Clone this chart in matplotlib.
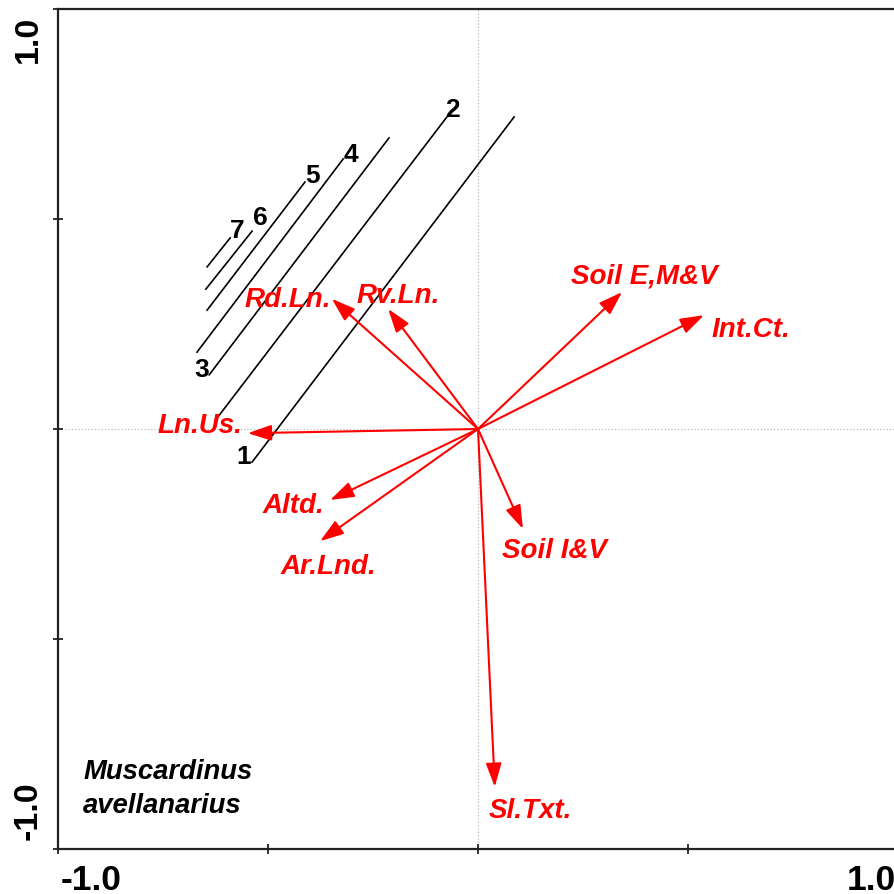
import matplotlib
matplotlib.use("Agg")
import matplotlib.pyplot as plt

# Environmental variable vectors (biplot scores)
variables = ["Ln.Us.", "Rd.Ln.", "Rv.Ln.", "Soil E,M&V", "Int.Ct.",
             "Altd.", "Ar.Lnd.", "Soil I&V", "Sl.Txt."]
var_x = [-0.548, -0.348, -0.214, 0.343, 0.538, -0.352, -0.376, 0.107, 0.040]
var_y = [-0.010, 0.310, 0.286, 0.326, 0.271, -0.169, -0.267, -0.238, -0.852]

# Label anchors for the vectors: (x, baseline y, horizontal alignment)
var_lab_x = [-0.560, -0.454, -0.189, 0.395, 0.557, -0.440, -0.357, 0.182, 0.124]
var_lab_y = [-0.007, 0.293, 0.302, 0.348, 0.221, -0.198, -0.343, -0.305, -0.924]
var_lab_ha = ["right", "center", "center", "center", "left",
              "center", "center", "center", "center"]

# Fitted response isolines for the species (values 1..7)
iso_values = ["1", "2", "3", "4", "5", "6", "7"]
iso_x0 = [-0.538, -0.619, -0.640, -0.669, -0.645, -0.648, -0.645]
iso_y0 = [-0.079, 0.029, 0.129, 0.183, 0.283, 0.333, 0.386]
iso_x1 = [0.086, -0.074, -0.212, -0.321, -0.412, -0.538, -0.590]
iso_y1 = [0.743, 0.743, 0.693, 0.643, 0.588, 0.471, 0.455]
iso_lab_x = [-0.557, -0.062, -0.657, -0.302, -0.393, -0.517, -0.574]
iso_lab_y = [-0.082, 0.745, 0.127, 0.639, 0.589, 0.487, 0.458]

species = ["Muscardinus", "avellanarius"]

FONT = "Liberation Sans"
RED = "#ff0000"

fig = plt.figure(figsize=(8.94, 8.95), dpi=100)
W, H = 894.0, 895.0
ax = fig.add_axes([58 / W, (H - 850) / H, 840 / W, 840 / H])
ax.set_xlim(-1, 1)
ax.set_ylim(-1, 1)

for side in ["left", "bottom", "top", "right"]:
    ax.spines[side].set_linewidth(1.6)
    ax.spines[side].set_color("#222222")

ticks = [-1.0, -0.5, 0.0, 0.5, 1.0]
ax.set_xticks(ticks)
ax.set_yticks(ticks)
ax.tick_params(direction="inout", length=7, width=1.3, color="#222222",
               labelbottom=False, labelleft=False)

ax.axhline(0, color="#b8b8b8", ls=":", lw=0.9, zorder=1)
ax.axvline(0, color="#b8b8b8", ls=":", lw=0.9, zorder=1)

# isolines
for i, v in enumerate(iso_values):
    ax.plot([iso_x0[i], iso_x1[i]], [iso_y0[i], iso_y1[i]],
            color="black", lw=1.2, zorder=2)
    ax.text(iso_lab_x[i], iso_lab_y[i], v, ha="center", va="baseline",
            fontsize=19, fontweight="bold", family=FONT, color="black")

# variable vectors
for i, name in enumerate(variables):
    ax.annotate("", xy=(var_x[i], var_y[i]), xytext=(0, 0),
                arrowprops=dict(arrowstyle="-|>,head_length=0.9,head_width=0.3",
                                mutation_scale=16, lw=1.5, color=RED,
                                shrinkA=0, shrinkB=0),
                zorder=3)
    ax.text(var_lab_x[i], var_lab_y[i], name, ha=var_lab_ha[i], va="baseline",
            fontsize=20, fontweight="bold", fontstyle="italic", family=FONT,
            color=RED)

# species name
ax.text(-0.940, -0.831, species[0], ha="left", va="baseline", fontsize=19.8,
        fontweight="bold", fontstyle="italic", family=FONT, color="black")
ax.text(-0.940, -0.912, species[1], ha="left", va="baseline", fontsize=19.8,
        fontweight="bold", fontstyle="italic", family=FONT, color="black")

# axis end labels
lab_kw = dict(fontsize=25.5, fontweight="bold", family=FONT, color="black",
              clip_on=False)
ax.text(-0.921, -1.095, "-1.0", ha="center", va="baseline", **lab_kw)
ax.text(0.879, -1.095, "1.0", ha="left", va="baseline", **lab_kw)
ylab_kw = dict(fontsize=24.5, fontweight="bold", family=FONT, color="black",
               clip_on=False, rotation=90, rotation_mode="anchor")
ax.text(-1.050, 0.931, "1.0", ha="center", va="baseline", **ylab_kw)
ax.text(-1.050, -0.907, "-1.0", ha="center", va="baseline", **ylab_kw)

fig.savefig("out.png", dpi=100)
